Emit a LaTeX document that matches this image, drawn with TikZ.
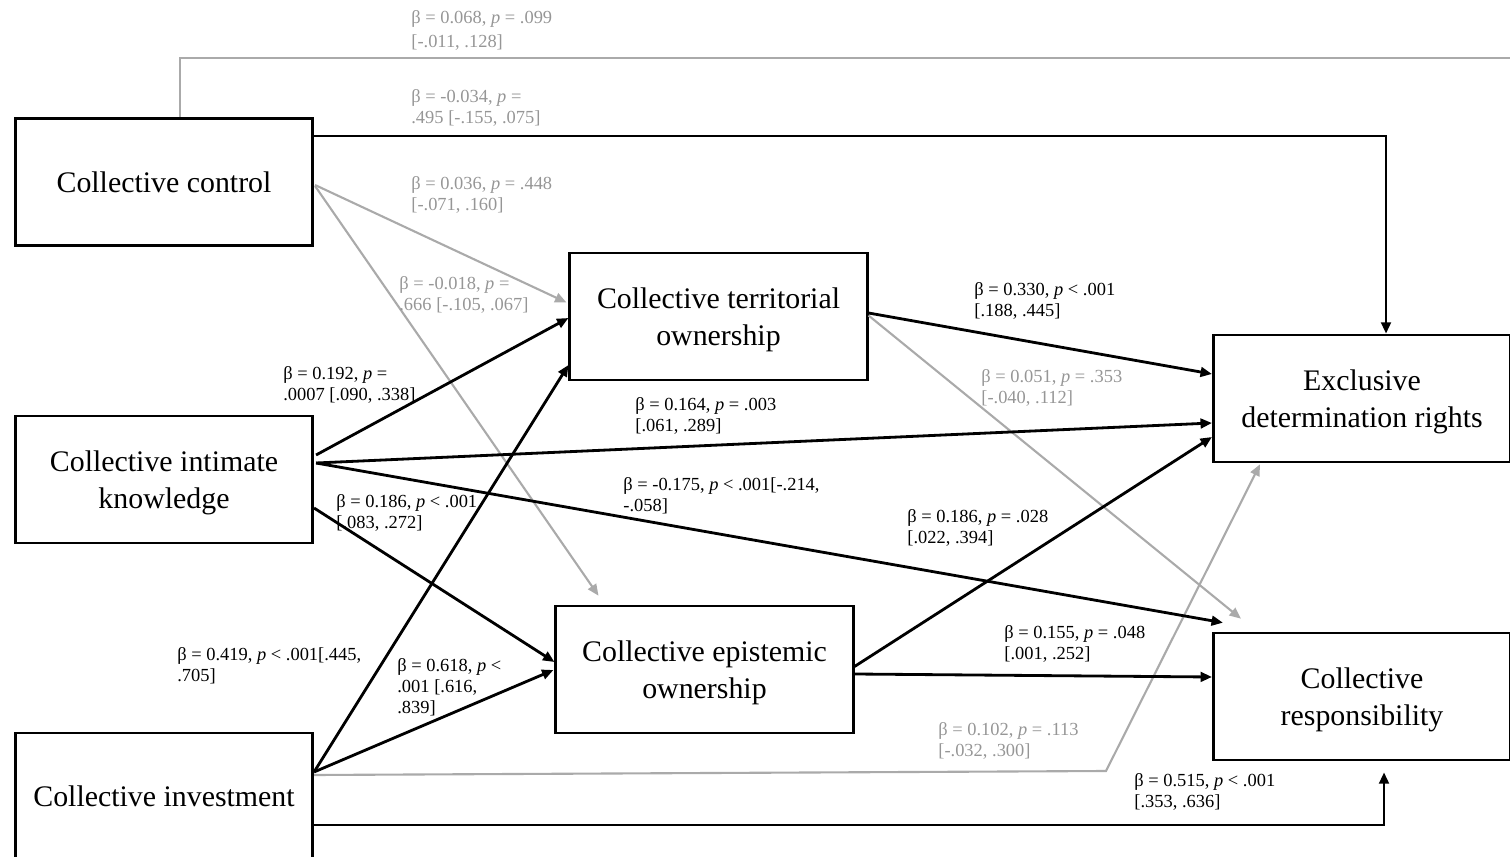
\documentclass[tikz,border=0pt]{standalone}
\usepackage{fontspec}
\setmainfont{Liberation Serif}
\usepackage{tikz}
\usetikzlibrary{arrows.meta,calc}
\definecolor{nsgray}{RGB}{170,170,170}
\definecolor{nstext}{RGB}{150,150,150}
\newcommand{\pv}{\textit{p}}

\begin{document}
\begin{tikzpicture}[
x = 0.02cm, y = -0.02cm,
varbox/.style={rectangle, align = center, draw = black, line width = 1.5pt,
minimum width = 5.95cm, minimum height = 2.54cm, inner sep = 0pt,
font = \fontsize{17}{21}\selectfont, text depth = -1.3pt},
patharr/.style={>={Triangle[length=6.5pt, width=5.5pt]}, ->, line width = 1.6pt, draw = black},
nsarr/.style={>={Triangle[length=6.5pt, width=5.5pt]}, ->, line width = 1.2pt, draw = nsgray},
coef/.style={anchor = west, align = left, inner sep = 0pt, font = \fontsize{10.5}{12}\selectfont},
nscoef/.style={coef, text = nstext}]

\useasboundingbox (0,0) rectangle (1510,857);

% predictors
\node[varbox] (ctrl) at (164,182) {Collective control};
\node[varbox] (intim) at (164,479.5) {Collective intimate\\knowledge};
\node[varbox] (invest) at (164,796.5) {Collective investment};

% mediators
\node[varbox] (terr) at (718.5,316.5) {Collective territorial\\ownership};
\node[varbox] (epist) at (704.5,669.5) {Collective epistemic\\ownership};

% outcomes
\node[varbox] (excl) at (1362,398.5) {Exclusive\\determination rights};
\node[varbox] (resp) at (1362,696.5) {Collective\\responsibility};

\coordinate (topend) at (1514,58);
\coordinate (bend) at (1106,771);

% non significant paths
\draw[nsarr, -] ($(ctrl.north)+(16,0)$) |- (topend);
\draw[nsarr] ($(ctrl.east)+(1,3)$) -- ($(terr.west)+(-2,-14)$);
\draw[nsarr] ($(ctrl.east)+(1,4)$) -- ($(epist.north)+(-106,-9)$);
\draw[nsarr] ($(invest.east)+(0,-21.5)$) -- (bend) -- ($(excl.south)+(-102,1)$);
\draw[nsarr] ($(terr.east)+(0,-1)$) -- ($(resp.north west)+(29,-13)$);

% significant paths
\draw[patharr] ($(ctrl.east)+(0,-46)$) -| ($(excl.north)+(24,0)$);
\draw[patharr] ($(intim.east)+(2,-24.5)$) -- ($(terr.west)+(0,1.5)$);
\draw[patharr] ($(intim.east)+(2,-16.5)$) -- ($(excl.west)+(0,24.5)$);
\draw[patharr] ($(intim.east)+(2,-16.5)$) -- ($(resp.north west)+(11,-9)$);
\draw[patharr] ($(intim.east)+(0,28.5)$) -- ($(epist.west)+(0,-7.5)$);
\draw[patharr] ($(invest.east)+(0,-24.5)$) -- ($(terr.west)+(0,48.5)$);
\draw[patharr] ($(invest.east)+(0,-24.5)$) -- ($(epist.west)+(-1,0.5)$);
\draw[patharr] ($(invest.east)+(0,28.5)$) -| ($(resp.south)+(22,11)$);
\draw[patharr] ($(terr.east)+(0,-3.5)$) -- ($(excl.west)+(0,-24.5)$);
\draw[patharr] ($(epist.east)+(0,-3)$) -- ($(excl.west)+(0,38.5)$);
\draw[patharr] ($(epist.east)+(0,4.5)$) -- ($(resp.west)+(0,-19.5)$);

% coefficients
\node[nscoef] (c1) at (411,30.5) {β = 0.068, \pv{} = .099\\[1.5pt]{}[-.011, .128]};
\node[nscoef] (c2) at (411,107.5) {β = -0.034, \pv{} =\\.495 [-.155, .075]};
\node[nscoef] (c3) at (411,195) {β = 0.036, \pv{} = .448\\{}[-.071, .160]};
\node[nscoef] (c4) at (399,295) {β = -0.018, \pv{} =\\.666 [-.105, .067]};
\node[coef] (c5) at (283,384.5) {β = 0.192, \pv{} =\\.0007 [.090, .338]};
\node[coef] (c6) at (635,416) {β = 0.164, \pv{} = .003\\{}[.061, .289]};
\node[coef] (c7) at (623,496) {β = -0.175, \pv{} < .001[-.214,\\-.058]};
\node[coef] (c8) at (336,512.5) {β = 0.186, \pv{} < .001\\{}[.083, .272]};
\node[coef] (c9) at (177,666) {β = 0.419, \pv{} < .001[.445,\\.705]};
\node[coef] (c10) at (397,687) {β = 0.618, \pv{} <\\.001 [.616,\\.839]};
\node[coef] (c11) at (974,301) {β = 0.330, \pv{} < .001\\{}[.188, .445]};
\node[nscoef] (c12) at (981,387.5) {β = 0.051, \pv{} = .353\\{}[-.040, .112]};
\node[coef] (c13) at (907,527.5) {β = 0.186, \pv{} = .028\\{}[.022, .394]};
\node[coef] (c14) at (1004,644) {β = 0.155, \pv{} = .048\\{}[.001, .252]};
\node[nscoef] (c15) at (938,741) {β = 0.102, \pv{} = .113\\{}[-.032, .300]};
\node[coef] (c16) at (1134,791.5) {β = 0.515, \pv{} < .001\\{}[.353, .636]};

\end{tikzpicture}
\end{document}
